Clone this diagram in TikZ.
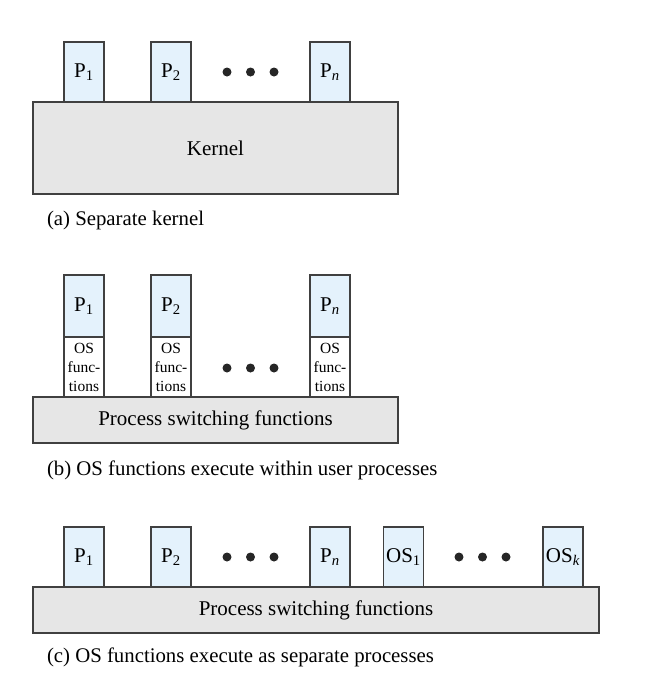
\documentclass[tikz,border=0pt]{standalone}
\usepackage{fontspec}
\setmainfont{Liberation Serif}
\usepackage{xcolor}
\definecolor{procblue}{HTML}{E4F2FC}
\definecolor{basegray}{HTML}{E6E6E6}
\definecolor{edgegray}{HTML}{404040}
\tikzset{x=1pt,y=-1pt,
      every node/.style={inner sep=0pt, outer sep=0pt},
      proc/.style={draw=edgegray, line width=1.2pt, fill=procblue,
      minimum width=40, minimum height=60,
      font=\fontsize{21}{25}\selectfont},
      osfun/.style={draw=edgegray, line width=1.2pt, fill=white,
      minimum width=40, minimum height=60, align=center,
      font=\fontsize{15.5}{19}\selectfont},
      base/.style={draw=edgegray, line width=1.2pt, fill=basegray,
      font=\fontsize{21}{25}\selectfont},
      caption/.style={anchor=base west, font=\fontsize{20.8}{25}\selectfont},
      blob/.style={circle, fill=black!85, minimum size=9}}

\begin{document}
\begin{tikzpicture}
          \useasboundingbox (0,0) rectangle (650,689);
          % (a) separate kernel
          \node[base, minimum width=365, minimum height=92] (kernel) at (215.5,148) {Kernel};
          \node[proc] (a1) at (84,72) {P\textsubscript{1}};
          \node[proc] (a2) at (171,72) {P\textsubscript{2}};
          \node[proc] (an) at (330,72) {P\textsubscript{\textit{n}}};
          \node[caption] (capa) at (47,225) {(a) Separate kernel};
          % (b) OS functions within user processes
          \node[base, minimum width=365, minimum height=46] (switchb) at (215.5,420) {Process switching functions};
          \node[proc, minimum height=62] (b1) at (84,306) {P\textsubscript{1}};
          \node[proc, minimum height=62] (b2) at (171,306) {P\textsubscript{2}};
          \node[proc, minimum height=62] (bn) at (330,306) {P\textsubscript{\textit{n}}};
          \node[osfun] (f1) at (84,367) {OS\\func-\\tions};
          \node[osfun] (f2) at (171,367) {OS\\func-\\tions};
          \node[osfun] (fn) at (330,367) {OS\\func-\\tions};
          \node[caption] (capb) at (47,475) {(b) OS functions execute within user processes};
          % (c) OS functions as separate processes
          \node[base, minimum width=566, minimum height=46] (switchc) at (316,610) {Process switching functions};
          \node[proc] (c1) at (84,557) {P\textsubscript{1}};
          \node[proc] (c2) at (171,557) {P\textsubscript{2}};
          \node[proc] (cn) at (330,557) {P\textsubscript{\textit{n}}};
          \node[proc] (os1) at (403.5,557) {OS\textsubscript{1}};
          \node[proc] (osk) at (563,557) {OS\textsubscript{\textit{k}}};
          \node[caption] (capc) at (47,662) {(c) OS functions execute as separate processes};
          % ellipses
          \foreach \px/\py/\nm in {227/72/a, 227/368/b, 227/557/c, 459/557/d}
            \foreach \k in {0,1,2}
              \node[blob] (dot\nm\k) at (\px+23.5*\k,\py) {};
       \end{tikzpicture}
\end{document}
